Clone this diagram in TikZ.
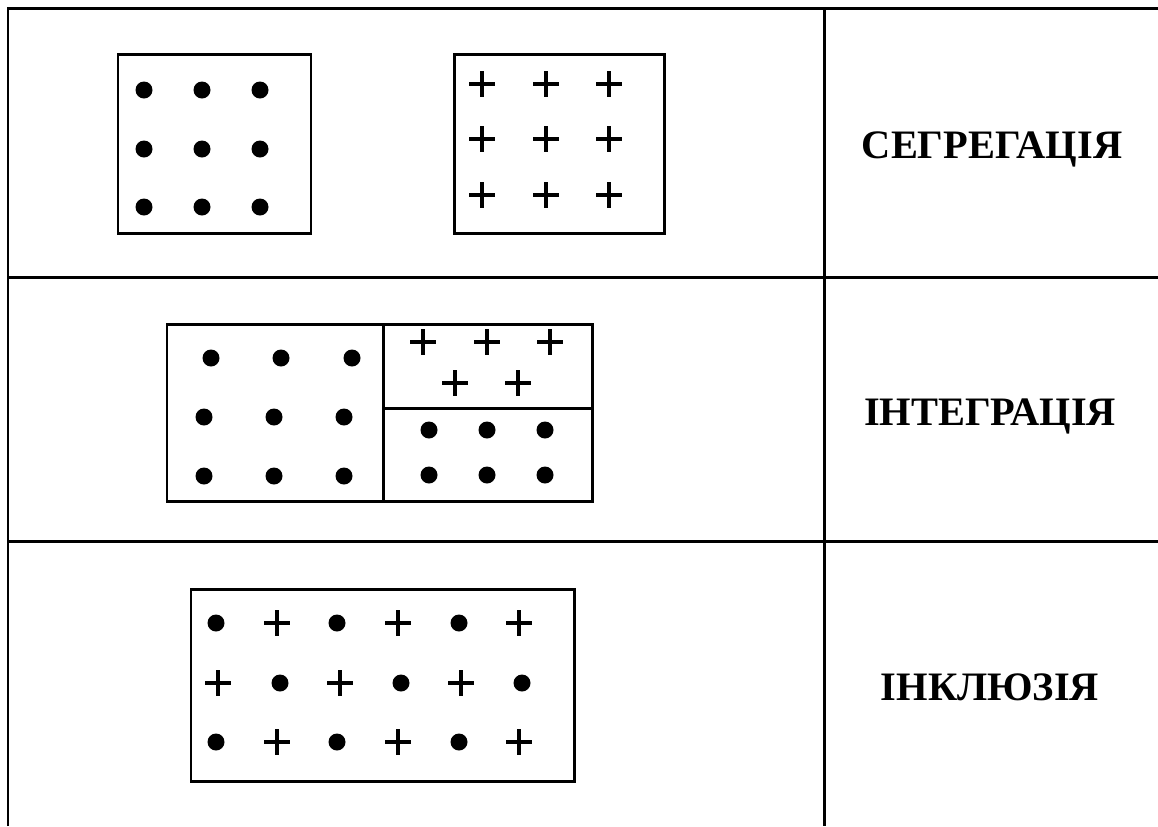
\documentclass[tikz,border=0pt]{standalone}
\usepackage{fontspec}
\setmainfont{Liberation Serif}
\usetikzlibrary{positioning}

\tikzset{
  tblline/.style={line width=1.7pt},
  boxline/.style={line width=1.7pt},
  rowname/.style={anchor=base, font=\fontsize{23}{27}\selectfont\bfseries},
  dotmk/.pic={\fill (0,0) circle (0.17cm);},
  plusmk/.pic={\draw[line width=1.8pt] (-13,0) -- (13,0) (0,-13) -- (0,13);}
}

\begin{document}
\begin{tikzpicture}[x=0.02cm, y=-0.02cm]
  \useasboundingbox (0,0) rectangle (1158,826);

  % table grid
  \begin{scope}[tblline]
    \draw (8,826) -- (8,8) -- (1158,8);
    \draw (8,277) -- (1158,277);
    \draw (8,541) -- (1158,541);
    \draw (824,8) -- (824,826);
  \end{scope}

  % row names
  \node[rowname] (seg)   at (992,158) {СЕГРЕГАЦІЯ};
  \node[rowname] (integ) at (990,425) {ІНТЕГРАЦІЯ};
  \node[rowname] (incl)  at (990,700) {ІНКЛЮЗІЯ};

  % segregation
  \draw[boxline] (118,54) rectangle (311,233);
  \foreach \x in {144,202,260}
    \foreach \y in {90,149,207}
      \pic at (\x,\y) {dotmk};
  \draw[boxline] (454,54) rectangle (664,233);
  \foreach \x in {482,546,609}
    \foreach \y in {84,139,195}
      \pic at (\x,\y) {plusmk};

  % integration
  \draw[boxline] (167,324) rectangle (592,501);
  \draw[boxline] (383,324) -- (383,501);
  \draw[boxline] (383,408) -- (592,408);
  \foreach \x in {211,281,352}
    \pic at (\x,358) {dotmk};
  \foreach \x in {204,274,344}
    \foreach \y in {417,476}
      \pic at (\x,\y) {dotmk};
  \foreach \x in {423,487,550}
    \pic at (\x,342) {plusmk};
  \foreach \x in {455,518}
    \pic at (\x,383) {plusmk};
  \foreach \x in {429,487,545}
    \foreach \y in {430,475}
      \pic at (\x,\y) {dotmk};

  % inclusion
  \draw[boxline] (191,589) rectangle (574,781);
  \foreach \x in {216,337,459}
    \foreach \y in {623,742}
      \pic at (\x,\y) {dotmk};
  \foreach \x in {277,398,519}
    \foreach \y in {623,742}
      \pic at (\x,\y) {plusmk};
  \foreach \x in {280,401,522}
    \pic at (\x,683) {dotmk};
  \foreach \x in {218,340,461}
    \pic at (\x,683) {plusmk};
\end{tikzpicture}
\end{document}
